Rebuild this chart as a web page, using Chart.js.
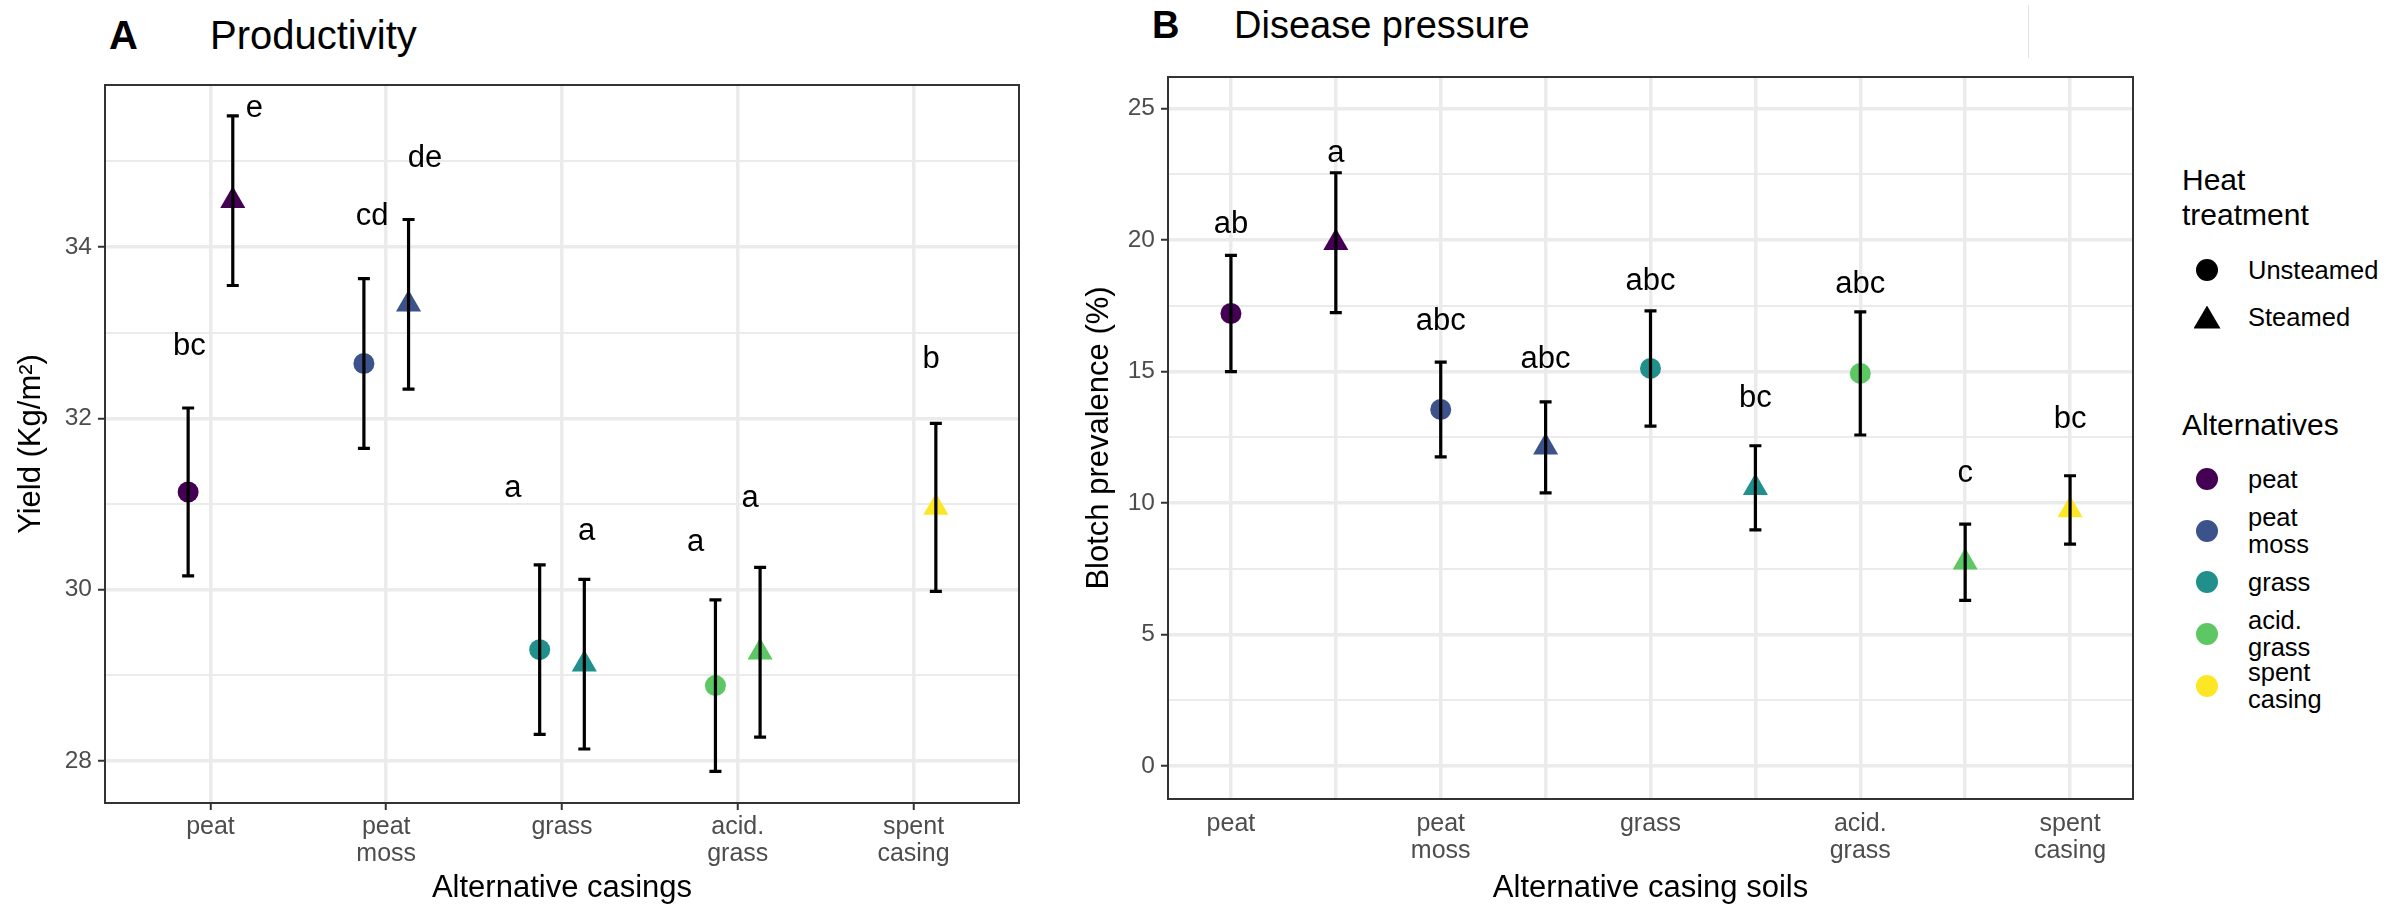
<!DOCTYPE html>
<html>
<head>
<meta charset="utf-8">
<script src="https://cdn.jsdelivr.net/npm/chart.js@4.4.0/dist/chart.umd.min.js"></script>
<style>
  html, body { margin: 0; padding: 0; background: #fff; }
  body { width: 2386px; height: 906px; position: relative; overflow: hidden;
         font-family: "Liberation Sans", Arial, sans-serif; color: #000; }
  .panel { position: absolute; top: 0; height: 906px; }
  .tag { position: absolute; font-weight: bold; line-height: 1; }
  .heading { position: absolute; line-height: 1; }
  .leg-title { position: absolute; left: 2182px; font-size: 30px; line-height: 35px; }
  .leg-row { position: absolute; left: 2190px; height: 60px; display: flex; align-items: center; }
  .leg-sym { width: 34px; display: flex; justify-content: center; align-items: center; }
  .leg-text { margin-left: 24px; font-size: 25.5px; line-height: 27px; }
  .dot { width: 22px; height: 22px; border-radius: 50%; }
  .tri { width: 27px; height: 23px; background: #000; clip-path: polygon(50% 0, 100% 100%, 0 100%); }
</style>
</head>
<body>
<div class="tag" style="left:109px;top:15px;font-size:40px">A</div>
<div class="heading" style="left:210px;top:15px;font-size:40px">Productivity</div>
<div class="tag" style="left:1152px;top:6px;font-size:38px">B</div>
<div class="heading" style="left:1234px;top:6px;font-size:38px">Disease pressure</div>
<div style="position:absolute;left:2028px;top:5px;width:1px;height:53px;background:#e3e3e3"></div>

<div class="panel" style="left:0;width:1040px"><canvas id="yieldChart"></canvas></div>
<div class="panel" style="left:1050px;width:1100px"><canvas id="blotchChart"></canvas></div>
<div id="legend"></div>

<script>
// casing alternatives and their viridis colours
const alternatives = ['peat', 'peat moss', 'grass', 'acid. grass', 'spent casing'];
const altColors = ['#440154', '#3B528B', '#21908C', '#5DC863', '#FDE725'];
const treatments = ['Unsteamed', 'Steamed'];

// A: yield (kg/m2), mean and error half-width
const yieldUnsteamed = [31.14, 32.64, 29.30, 28.88, null];
const yieldUnsteamedErr = [0.98, 0.99, 0.99, 1.00, null];
const yieldSteamed = [34.54, 33.33, 29.13, 29.27, 30.96];
const yieldSteamedErr = [0.99, 0.99, 0.99, 0.99, 0.98];
const yieldTicks = [28, 30, 32, 34];
const yieldLetterText = ['bc', 'e', 'cd', 'de', 'a', 'a', 'a', 'a', 'b'];
const yieldLetterX = [-0.12, 0.25, 0.92, 1.22, 1.72, 2.14, 2.76, 3.07, 4.10];
const yieldLetterY = [32.84, 35.62, 34.35, 35.03, 31.18, 30.68, 30.55, 31.06, 32.69];

// B: blotch prevalence (%), mean and error half-width
const blotchUnsteamed = [17.21, 13.56, 15.12, 14.93, null];
const blotchUnsteamedErr = [2.21, 1.80, 2.19, 2.34, null];
const blotchSteamed = [19.90, 12.12, 10.58, 7.75, 9.74];
const blotchSteamedErr = [2.66, 1.73, 1.60, 1.45, 1.30];
const blotchTicks = [0, 5, 10, 15, 20, 25];
const blotchLetterText = ['ab', 'a', 'abc', 'abc', 'abc', 'bc', 'abc', 'c', 'bc'];
const blotchLetterY = [20.58, 23.28, 16.92, 15.47, 18.44, 13.96, 18.30, 11.12, 13.18];

Chart.defaults.font.family = '"Liberation Sans", Arial, sans-serif';

const GRID = '#EBEBEB';
const INK = '#333333';
const LABEL = '#4D4D4D';
const dodge = 0.127;

// minor gridlines sit halfway between the major ones
function withMinor(majors, max) {
  const step = majors[1] - majors[0];
  const all = majors.slice();
  majors.forEach(v => { if (v + step / 2 <= max) all.push(v + step / 2); });
  return all.sort((a, b) => a - b);
}

function yScale(min, max, majors, title, titlePad, width) {
  const isMajor = v => majors.includes(v);
  return {
    type: 'linear', min, max,
    afterBuildTicks: s => { s.ticks = withMinor(majors, max).map(v => ({ value: v })); },
    ticks: { autoSkip: false, color: LABEL, font: { size: 24.5 }, padding: 6,
             callback: v => isMajor(v) ? v : '' },
    grid: {
      color: GRID, tickLength: 7, tickWidth: 2,
      lineWidth: c => (c.tick && isMajor(c.tick.value)) ? 3.5 : 2,
      tickColor: c => (c.tick && isMajor(c.tick.value)) ? INK : 'rgba(0,0,0,0)'
    },
    border: { display: false },
    title: { display: true, text: title, color: '#000', font: { size: 31, lineHeight: 1.1 },
             padding: { top: titlePad, bottom: 0 } },
    afterFit: s => { s.width = width; }
  };
}

function xScale(min, max, count, label, tickColor, padding, height, title) {
  return {
    type: 'linear', min, max,
    afterBuildTicks: s => { s.ticks = Array.from({ length: count }, (_, i) => ({ value: i })); },
    ticks: { autoSkip: false, maxRotation: 0, color: LABEL, padding,
             font: { size: 25, lineHeight: 1.1 }, callback: label },
    grid: { color: GRID, lineWidth: 3.5, tickLength: 7, tickWidth: 2, tickColor },
    border: { display: false },
    title: { display: true, text: title, color: '#000', font: { size: 31, lineHeight: 1.1 },
             padding: { top: 0, bottom: 0 } },
    afterFit: s => { s.height = height; }
  };
}

function pointSet(label, style, radius, points) {
  return {
    label, data: points, pointStyle: style, pointRadius: radius, pointHoverRadius: radius,
    pointBorderWidth: 0,
    backgroundColor: c => c.raw ? c.raw.color : '#000',
    borderColor: c => c.raw ? c.raw.color : '#000'
  };
}

// error bars, letters and panel frame drawn on top of the points
function overlay(letters) {
  return {
    id: 'overlay',
    afterDatasetsDraw(chart) {
      const { ctx, chartArea: a, scales: { x, y } } = chart;
      ctx.save();
      ctx.strokeStyle = '#000';
      ctx.lineWidth = 3.2;
      chart.data.datasets.forEach(ds => ds.data.forEach(p => {
        const px = x.getPixelForValue(p.x);
        const top = y.getPixelForValue(p.y + p.err);
        const bot = y.getPixelForValue(p.y - p.err);
        ctx.beginPath();
        ctx.moveTo(px, top); ctx.lineTo(px, bot);
        ctx.moveTo(px - 6, top); ctx.lineTo(px + 6, top);
        ctx.moveTo(px - 6, bot); ctx.lineTo(px + 6, bot);
        ctx.stroke();
      }));
      ctx.fillStyle = '#000';
      ctx.font = '31px "Liberation Sans", Arial, sans-serif';
      ctx.textAlign = 'center';
      ctx.textBaseline = 'middle';
      letters.forEach(l => ctx.fillText(l.text, x.getPixelForValue(l.x), y.getPixelForValue(l.y)));
      ctx.strokeStyle = INK;
      ctx.lineWidth = 2;
      ctx.strokeRect(a.left, a.top, a.right - a.left, a.bottom - a.top);
      ctx.restore();
    }
  };
}

const base = {
  responsive: true, maintainAspectRatio: false, animation: false, devicePixelRatio: 1,
  plugins: { legend: { display: false }, tooltip: { enabled: false } },
  events: []
};

// Panel A: dodged points per casing
function dodged(values, errs, offset) {
  const out = [];
  values.forEach((v, i) => {
    if (v !== null) out.push({ x: i + offset, y: v, err: errs[i], color: altColors[i] });
  });
  return out;
}

new Chart(document.getElementById('yieldChart'), {
  type: 'scatter',
  data: {
    datasets: [
      pointSet('Unsteamed', 'circle', 10.5, dodged(yieldUnsteamed, yieldUnsteamedErr, -dodge)),
      pointSet('Steamed', 'triangle', 14.5, dodged(yieldSteamed, yieldSteamedErr, dodge))
    ]
  },
  options: {
    ...base,
    layout: { padding: { top: 85, right: 21, left: 0, bottom: 0 } },
    scales: {
      x: xScale(-0.6, 4.6, alternatives.length, v => alternatives[v].split(' '), INK, 3, 103,
                'Alternative casings'),
      y: yScale(27.51, 35.89, yieldTicks, 'Yield (Kg/m²)', 14, 105)
    }
  },
  plugins: [overlay(yieldLetterText.map((t, i) => ({ text: t, x: yieldLetterX[i], y: yieldLetterY[i] })))]
});

// Panel B: every casing x treatment group gets its own slot
const blotchU = [], blotchS = [];
let slot = 0;
alternatives.forEach((alt, i) => {
  if (blotchUnsteamed[i] !== null)
    blotchU.push({ x: slot++, y: blotchUnsteamed[i], err: blotchUnsteamedErr[i], color: altColors[i] });
  if (blotchSteamed[i] !== null)
    blotchS.push({ x: slot++, y: blotchSteamed[i], err: blotchSteamedErr[i], color: altColors[i] });
});

new Chart(document.getElementById('blotchChart'), {
  type: 'scatter',
  data: {
    datasets: [
      pointSet('Unsteamed', 'circle', 10.5, blotchU),
      pointSet('Steamed', 'triangle', 14.5, blotchS)
    ]
  },
  options: {
    ...base,
    layout: { padding: { top: 77, right: 17, left: 0, bottom: 0 } },
    scales: {
      x: xScale(-0.6, slot - 1 + 0.6, slot,
                v => v % 2 === 0 ? alternatives[v / 2].split(' ') : '',
                'rgba(0,0,0,0)', 4, 107, 'Alternative casing soils'),
      y: yScale(-1.25, 26.2, blotchTicks, 'Blotch prevalence (%)', 32, 118)
    }
  },
  plugins: [overlay(blotchLetterText.map((t, i) => ({ text: t, x: i, y: blotchLetterY[i] })))]
});

// legend: shape key, then colour key
const legend = document.getElementById('legend');
let html = '<div class="leg-title" style="top:162px">Heat<br>treatment</div>';
const shapeY = [270, 317];
treatments.forEach((t, i) => {
  const sym = i === 0 ? '<div class="dot" style="background:#000"></div>' : '<div class="tri"></div>';
  html += `<div class="leg-row" style="top:${shapeY[i] - 30}px"><div class="leg-sym">${sym}</div>` +
          `<div class="leg-text">${t}</div></div>`;
});
html += '<div class="leg-title" style="top:407px">Alternatives</div>';
alternatives.forEach((alt, i) => {
  const cy = 479 + i * 51.7;
  html += `<div class="leg-row" style="top:${cy - 30}px"><div class="leg-sym">` +
          `<div class="dot" style="background:${altColors[i]}"></div></div>` +
          `<div class="leg-text">${alt.split(' ').join('<br>')}</div></div>`;
});
legend.innerHTML = html;
</script>
</body>
</html>
